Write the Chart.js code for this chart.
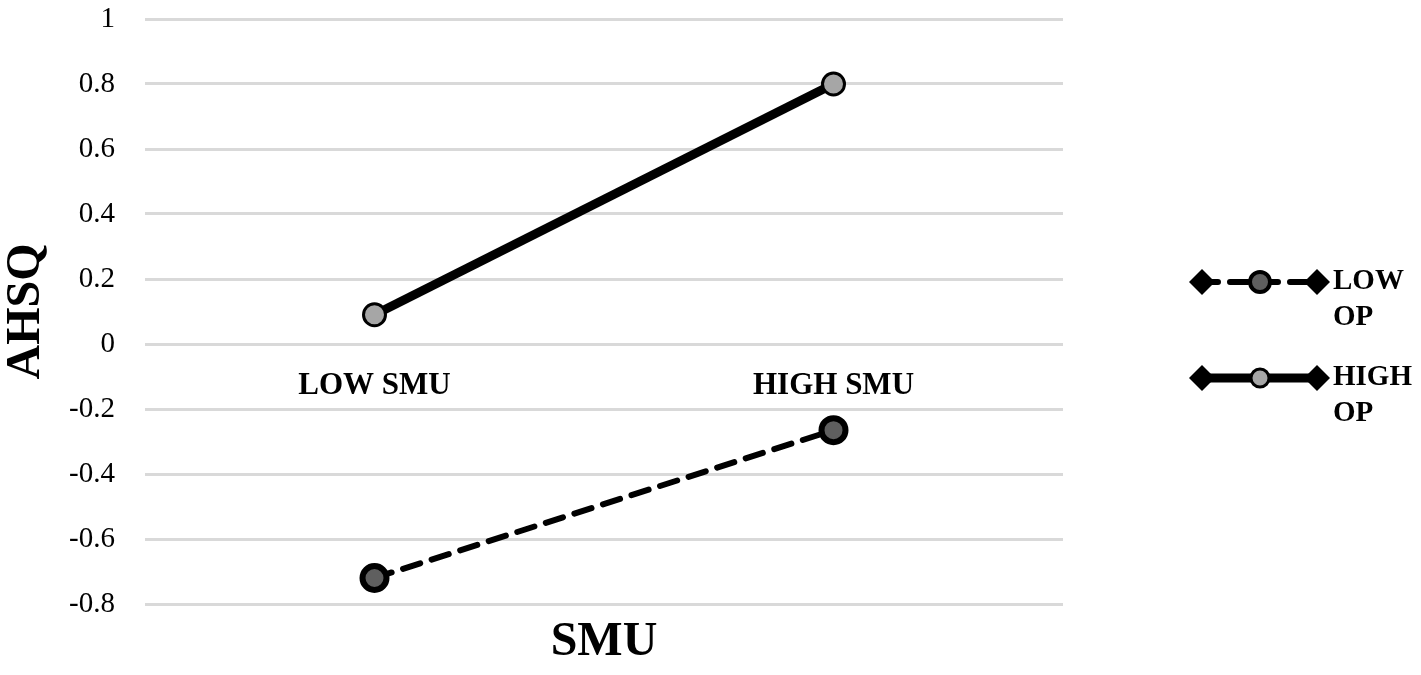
<!DOCTYPE html>
<html>
<head>
<meta charset="utf-8">
<script src="https://cdn.jsdelivr.net/npm/chart.js@4/dist/chart.umd.min.js"></script>
<style>
  html, body { margin: 0; padding: 0; background: #fff; }
  #wrap { width: 1421px; height: 675px; position: relative; }
</style>
</head>
<body>
<div id="wrap"><canvas id="c" width="1421" height="675"></canvas></div>
<script>
const categories = ['LOW SMU', 'HIGH SMU'];
const seriesNames = ['LOW OP', 'HIGH OP'];
const lowOP = [-0.72, -0.265];
const highOP = [0.09, 0.80];
const yTicks = [1, 0.8, 0.6, 0.4, 0.2, 0, -0.2, -0.4, -0.6, -0.8];
const xTitle = 'SMU';
const yTitle = 'AHSQ';

const FONT = '"Liberation Serif", "Times New Roman", serif';

const legendPlugin = {
  id: 'excelLegend',
  afterDraw(chart) {
    const ctx = chart.ctx;
    const rows = [282, 378];
    chart.data.datasets.forEach((ds, i) => {
      const y = rows[i];
      const x0 = 1190, x1 = 1330;
      ctx.save();
      ctx.strokeStyle = '#000';
      ctx.lineWidth = ds.borderWidth;
      ctx.lineCap = ds.borderDash ? 'round' : 'butt';
      ctx.setLineDash(ds.borderDash || []);
      ctx.beginPath();
      ctx.moveTo(x0 + 10, y);
      ctx.lineTo(x1 - 10, y);
      ctx.stroke();
      ctx.setLineDash([]);
      [1202, 1317].forEach(dx => {
        ctx.fillStyle = '#000';
        ctx.beginPath();
        ctx.moveTo(dx, y - 13);
        ctx.lineTo(dx + 13, y);
        ctx.lineTo(dx, y + 13);
        ctx.lineTo(dx - 13, y);
        ctx.closePath();
        ctx.fill();
      });
      ctx.beginPath();
      ctx.arc(1260, y, i === 0 ? 10 : 9, 0, Math.PI * 2);
      ctx.fillStyle = ds.pointBackgroundColor;
      ctx.fill();
      ctx.lineWidth = i === 0 ? 4 : 3;
      ctx.strokeStyle = '#000';
      ctx.stroke();
      ctx.fillStyle = '#000';
      ctx.font = 'bold 29px ' + FONT;
      ctx.textAlign = 'left';
      ctx.textBaseline = 'middle';
      const parts = ds.label.split(' ');
      ctx.fillText(parts[0], 1333, y);
      ctx.fillText(parts.slice(1).join(' '), 1333, y + 36);
      ctx.restore();
    });
  }
};

new Chart(document.getElementById('c'), {
  type: 'line',
  data: {
    labels: categories,
    datasets: [
      {
        label: seriesNames[0],
        data: lowOP,
        borderColor: '#000',
        borderWidth: 6,
        borderDash: [18, 12],
        borderCapStyle: 'round',
        pointRadius: 12,
        pointHoverRadius: 12,
        pointBackgroundColor: '#5f5f5f',
        pointBorderColor: '#000',
        pointBorderWidth: 6,
        xAxisID: 'x',
        yAxisID: 'y'
      },
      {
        label: seriesNames[1],
        data: highOP,
        borderColor: '#000',
        borderWidth: 9,
        pointRadius: 11,
        pointHoverRadius: 11,
        pointBackgroundColor: '#a6a6a6',
        pointBorderColor: '#000',
        pointBorderWidth: 3,
        xAxisID: 'x',
        yAxisID: 'y'
      }
    ]
  },
  options: {
    responsive: false,
    animation: false,
    layout: { padding: { top: 19, right: 358, bottom: 0, left: 0 } },
    plugins: { legend: { display: false }, tooltip: { enabled: false } },
    scales: {
      x: {
        type: 'category',
        position: { y: 0 },
        offset: true,
        grid: { display: false, drawTicks: false },
        border: { display: false },
        ticks: { color: '#000', padding: 23, font: { family: FONT, size: 31, weight: 'bold' } },
        afterFit(scale) { scale.paddingLeft = 0; scale.paddingRight = 0; }
      },
      x2: {
        type: 'category',
        labels: categories,
        position: 'bottom',
        offset: true,
        grid: { display: false, drawTicks: false },
        border: { display: false },
        ticks: { display: false },
        title: { display: true, text: xTitle, color: '#000', font: { family: FONT, size: 48, weight: 'bold' }, padding: { top: 0, bottom: 4 } },
        afterFit(scale) { scale.height = 71; }
      },
      y: {
        min: -0.8,
        max: 1,
        afterBuildTicks(scale) { scale.ticks = yTicks.map(v => ({ value: v })); },
        grid: { color: '#d9d9d9', lineWidth: 3, drawTicks: false },
        border: { display: false },
        ticks: {
          color: '#000', padding: 30,
          font: { family: FONT, size: 29 },
          callback: v => String(Math.round(v * 10) / 10)
        },
        title: { display: true, text: yTitle, color: '#000', font: { family: FONT, size: 48, weight: 'bold', lineHeight: 1.1 }, padding: 0 },
        afterFit(scale) { scale.width = 145; scale.paddingTop = 0; scale.paddingBottom = 0; }
      }
    }
  },
  plugins: [legendPlugin]
});
</script>
</body>
</html>
